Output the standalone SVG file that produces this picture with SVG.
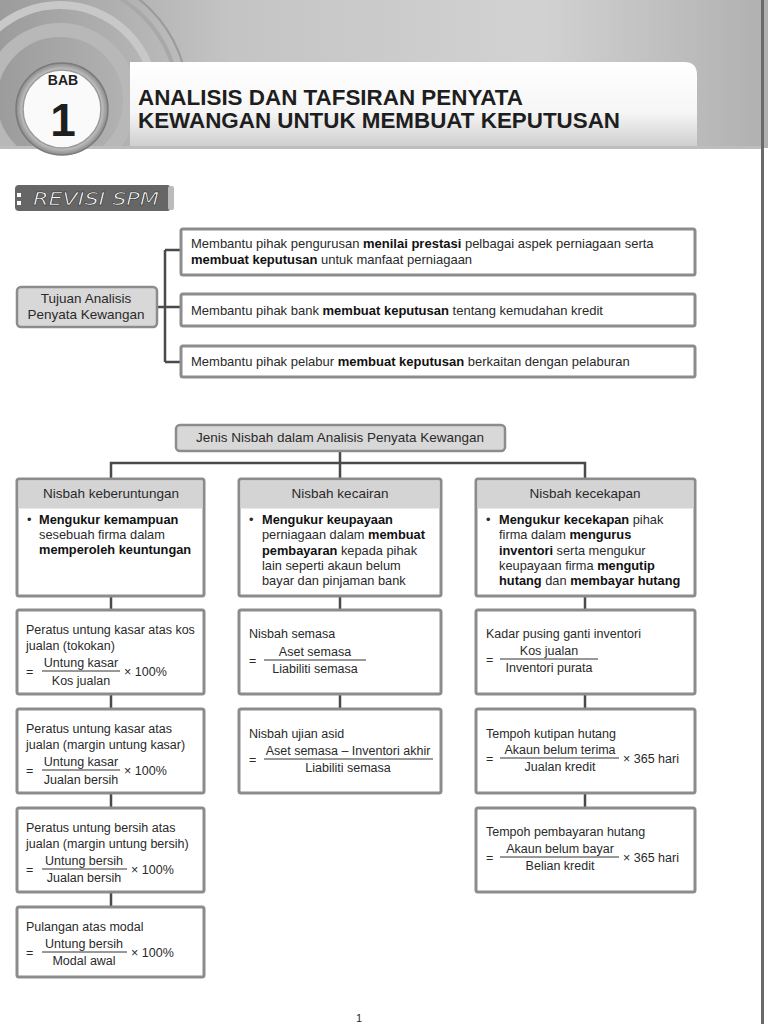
<svg xmlns="http://www.w3.org/2000/svg" width="768" height="1024" viewBox="0 0 768 1024">
<defs>
<linearGradient id="hdr" x1="0" y1="0" x2="1" y2="0">
<stop offset="0" stop-color="#9c9c9c"/><stop offset="0.3" stop-color="#c4c4c4"/><stop offset="0.7" stop-color="#d2d2d2"/><stop offset="1" stop-color="#b0b0b0"/>
</linearGradient>
<linearGradient id="panel" x1="0" y1="0" x2="0" y2="1">
<stop offset="0" stop-color="#ffffff"/><stop offset="0.6" stop-color="#f6f6f6"/><stop offset="1" stop-color="#cfcfcf"/>
</linearGradient>
<radialGradient id="ring" cx="0.5" cy="0.5" r="0.5">
<stop offset="0.8" stop-color="#d8d8d8"/><stop offset="1" stop-color="#8a8a8a"/>
</radialGradient>
<clipPath id="hclip"><rect x="0" y="0" width="768" height="148"/></clipPath>
<style>
.t{font-family:"Liberation Sans",Arial,sans-serif;font-size:12.5px;fill:#2a2a2a}
.b{font-weight:bold;fill:#111}
.c{text-anchor:middle}
.box{fill:#fff;stroke:#8c8c8c;stroke-width:3}
.gbox{fill:#d8d8d8;stroke:#8c8c8c;stroke-width:2.5}
.hd{fill:#d4d4d4}
.con{stroke:#4a4a4a;stroke-width:2.5;fill:none}
.fr{stroke:#333;stroke-width:1}
.h{font-family:"Liberation Sans",Arial,sans-serif;font-weight:bold;fill:#1e1e1e}
.k{font-size:12.8px}
.m{font-size:13px}
.l{font-size:13.5px}
.pg{font-size:11px}
</style>
</defs>
<rect width="768" height="1024" fill="#ffffff"/>
<g id="header">
<rect x="0" y="0" width="768" height="148" fill="url(#hdr)"/>
<g clip-path="url(#hclip)" fill="none" stroke="#b8b8b8">
<circle cx="60" cy="100" r="70" stroke-width="14"/>
<circle cx="60" cy="100" r="95" stroke-width="8" stroke="#c8c8c8"/>
<circle cx="60" cy="100" r="118" stroke-width="4" stroke="#a8a8a8"/>
<circle cx="60" cy="100" r="128" stroke-width="2" stroke="#9a9a9a"/>
</g>
<path d="M130 62 H684 Q697 62 697 75 V146 H130 Z" fill="url(#panel)"/>
<rect x="0" y="146" width="762" height="3" fill="#bdbdbd"/>
<circle cx="62" cy="109" r="46" fill="url(#ring)" stroke="#7a7a7a" stroke-width="1.5"/>
<circle cx="62" cy="109" r="39" fill="#fafafa" stroke="#9a9a9a" stroke-width="1.5"/>
<text x="63" y="85" class="h c" font-size="14">BAB</text>
<text x="63" y="136" class="h c" font-size="46">1</text>
<text x="138" y="105" class="h" font-size="22" textLength="385" lengthAdjust="spacingAndGlyphs">ANALISIS DAN TAFSIRAN PENYATA</text>
<text x="138" y="128" class="h" font-size="22" textLength="482" lengthAdjust="spacingAndGlyphs">KEWANGAN UNTUK MEMBUAT KEPUTUSAN</text>
</g>
<rect x="761" y="0" width="3" height="1024" fill="#6a6a6a"/>
<g id="revisi">
<rect x="15" y="185" width="156" height="26" rx="4" fill="#666"/>
<rect x="168" y="186" width="6" height="24" rx="2" fill="#bbb"/>
<rect x="17" y="193" width="4" height="4" fill="#fff"/>
<rect x="17" y="201" width="4" height="4" fill="#fff"/>
<text x="33" y="205" font-family="DejaVu Sans, sans-serif" font-style="italic" font-size="17" fill="#fff" stroke="#222" stroke-width="0.5" textLength="126" lengthAdjust="spacingAndGlyphs">REVISI SPM</text>
</g>
<g id="connectors">
<path class="con" d="M157 307 H165 M165 250 V362 M165 250 H181 M165 307 H181 M165 362 H181"/>
<path class="con" d="M340 451 V463 M111 479 V463 H585 V479 M340 463 V479"/>
<path class="con" d="M111 596 V610 M340 596 V610 M585 596 V610"/>
<path class="con" d="M111 694 V709 M111 793 V808 M111 892 V907"/>
<path class="con" d="M340 694 V709"/>
<path class="con" d="M585 694 V709 M585 793 V808"/>
</g>
<g id="tujuan">
<rect class="gbox" x="17" y="287" width="140" height="40" rx="4"/>
<text x="86" y="303" class="t l c">Tujuan Analisis</text>
<text x="86" y="319" class="t l c">Penyata Kewangan</text>
</g>
<g id="tujuan1">
<rect class="box" x="181" y="229" width="514" height="46" rx="2"/>
<text x="191" y="248" class="t m">Membantu pihak pengurusan <tspan class="b">menilai prestasi</tspan> pelbagai aspek perniagaan serta</text>
<text x="191" y="264" class="t m"><tspan class="b">membuat keputusan</tspan> untuk manfaat perniagaan</text>
</g>
<g id="tujuan2">
<rect class="box" x="181" y="294" width="514" height="32" rx="2"/>
<text x="191" y="315" class="t m">Membantu pihak bank <tspan class="b">membuat keputusan</tspan> tentang kemudahan kredit</text>
</g>
<g id="tujuan3">
<rect class="box" x="181" y="346" width="514" height="31" rx="2"/>
<text x="191" y="366" class="t m">Membantu pihak pelabur <tspan class="b">membuat keputusan</tspan> berkaitan dengan pelaburan</text>
</g>
<g id="jenis">
<rect class="gbox" x="176" y="425" width="329" height="26" rx="4"/>
<text x="340" y="442" class="t l c">Jenis Nisbah dalam Analisis Penyata Kewangan</text>
</g>
<g id="keberuntungan">
<rect class="box" x="17" y="479" width="187" height="117" rx="2"/>
<rect class="hd" x="18.5" y="480.5" width="184" height="28"/>
<text x="111" y="498" class="t l c">Nisbah keberuntungan</text>
<text x="27" y="524" class="t k">•</text>
<text x="39" y="524" class="t k b">Mengukur kemampuan</text>
<text x="39" y="539" class="t k">sesebuah firma dalam</text>
<text x="39" y="554" class="t k b">memperoleh keuntungan</text>
</g>
<g id="kecairan">
<rect class="box" x="239" y="479" width="202" height="117" rx="2"/>
<rect class="hd" x="240.5" y="480.5" width="199" height="28"/>
<text x="340" y="498" class="t l c">Nisbah kecairan</text>
<text x="249" y="524" class="t k">•</text>
<text x="262" y="524" class="t k b">Mengukur keupayaan</text>
<text x="262" y="539" class="t k">perniagaan dalam <tspan class="b">membuat</tspan></text>
<text x="262" y="555" class="t k"><tspan class="b">pembayaran</tspan> kepada pihak</text>
<text x="262" y="570" class="t k">lain seperti akaun belum</text>
<text x="262" y="585" class="t k">bayar dan pinjaman bank</text>
</g>
<g id="kecekapan">
<rect class="box" x="476" y="479" width="219" height="117" rx="2"/>
<rect class="hd" x="477.5" y="480.5" width="216" height="28"/>
<text x="585" y="498" class="t l c">Nisbah kecekapan</text>
<text x="486" y="524" class="t k">•</text>
<text x="499" y="524" class="t k"><tspan class="b">Mengukur kecekapan</tspan> pihak</text>
<text x="499" y="539" class="t k">firma dalam <tspan class="b">mengurus</tspan></text>
<text x="499" y="555" class="t k"><tspan class="b">inventori</tspan> serta mengukur</text>
<text x="499" y="570" class="t k">keupayaan firma <tspan class="b">mengutip</tspan></text>
<text x="499" y="585" class="t k"><tspan class="b">hutang</tspan> dan <tspan class="b">membayar hutang</tspan></text>
</g>
<g id="f-tokokan">
<rect class="box" x="17" y="610" width="187" height="84" rx="2"/>
<text x="26" y="634" class="t">Peratus untung kasar atas kos</text>
<text x="26" y="650" class="t">jualan (tokokan)</text>
<text x="26" y="676" class="t">=</text>
<text x="81" y="667" class="t c">Untung kasar</text>
<line class="fr" x1="42" y1="671" x2="120" y2="671"/>
<text x="81" y="685" class="t c">Kos jualan</text>
<text x="124" y="676" class="t">× 100%</text>
</g>
<g id="f-margin-kasar">
<rect class="box" x="17" y="709" width="187" height="84" rx="2"/>
<text x="26" y="733" class="t">Peratus untung kasar atas</text>
<text x="26" y="749" class="t">jualan (margin untung kasar)</text>
<text x="26" y="775" class="t">=</text>
<text x="81" y="766" class="t c">Untung kasar</text>
<line class="fr" x1="42" y1="770" x2="120" y2="770"/>
<text x="81" y="784" class="t c">Jualan bersih</text>
<text x="124" y="775" class="t">× 100%</text>
</g>
<g id="f-margin-bersih">
<rect class="box" x="17" y="808" width="187" height="84" rx="2"/>
<text x="26" y="832" class="t">Peratus untung bersih atas</text>
<text x="26" y="848" class="t">jualan (margin untung bersih)</text>
<text x="26" y="874" class="t">=</text>
<text x="84" y="865" class="t c">Untung bersih</text>
<line class="fr" x1="42" y1="869" x2="127" y2="869"/>
<text x="84" y="882" class="t c">Jualan bersih</text>
<text x="131" y="874" class="t">× 100%</text>
</g>
<g id="f-pulangan">
<rect class="box" x="17" y="907" width="187" height="70" rx="2"/>
<text x="26" y="931" class="t">Pulangan atas modal</text>
<text x="26" y="957" class="t">=</text>
<text x="84" y="948" class="t c">Untung bersih</text>
<line class="fr" x1="42" y1="952" x2="127" y2="952"/>
<text x="84" y="965" class="t c">Modal awal</text>
<text x="131" y="957" class="t">× 100%</text>
</g>
<g id="f-semasa">
<rect class="box" x="239" y="610" width="202" height="84" rx="2"/>
<text x="249" y="638" class="t">Nisbah semasa</text>
<text x="249" y="665" class="t">=</text>
<text x="315" y="656" class="t c">Aset semasa</text>
<line class="fr" x1="264" y1="660" x2="366" y2="660"/>
<text x="315" y="673" class="t c">Liabiliti semasa</text>
</g>
<g id="f-asid">
<rect class="box" x="239" y="709" width="202" height="84" rx="2"/>
<text x="249" y="738" class="t">Nisbah ujian asid</text>
<text x="249" y="764" class="t">=</text>
<text x="348" y="755" class="t c">Aset semasa – Inventori akhir</text>
<line class="fr" x1="264" y1="759" x2="433" y2="759"/>
<text x="348" y="772" class="t c">Liabiliti semasa</text>
</g>
<g id="f-pusing">
<rect class="box" x="476" y="610" width="219" height="84" rx="2"/>
<text x="486" y="638" class="t">Kadar pusing ganti inventori</text>
<text x="486" y="664" class="t">=</text>
<text x="549" y="655" class="t c">Kos jualan</text>
<line class="fr" x1="500" y1="659" x2="598" y2="659"/>
<text x="549" y="672" class="t c">Inventori purata</text>
</g>
<g id="f-kutipan">
<rect class="box" x="476" y="709" width="219" height="84" rx="2"/>
<text x="486" y="738" class="t">Tempoh kutipan hutang</text>
<text x="486" y="763" class="t">=</text>
<text x="560" y="754" class="t c">Akaun belum terima</text>
<line class="fr" x1="500" y1="758" x2="619" y2="758"/>
<text x="560" y="771" class="t c">Jualan kredit</text>
<text x="623" y="763" class="t">× 365 hari</text>
</g>
<g id="f-pembayaran">
<rect class="box" x="476" y="808" width="219" height="84" rx="2"/>
<text x="486" y="836" class="t">Tempoh pembayaran hutang</text>
<text x="486" y="862" class="t">=</text>
<text x="560" y="853" class="t c">Akaun belum bayar</text>
<line class="fr" x1="500" y1="857" x2="619" y2="857"/>
<text x="560" y="870" class="t c">Belian kredit</text>
<text x="623" y="862" class="t">× 365 hari</text>
</g>
<text x="356" y="1022" class="t pg">1</text>
</svg>
